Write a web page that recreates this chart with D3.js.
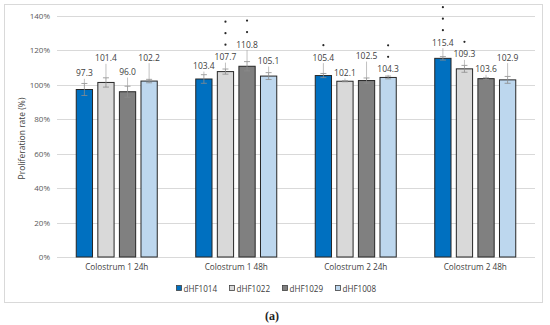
<!DOCTYPE html>
<html>
<head>
<meta charset="utf-8">
<script src="https://cdn.jsdelivr.net/npm/d3@7"></script>
<style>
  html, body { margin: 0; padding: 0; background: #fff; }
  svg { display: block; }
</style>
</head>
<body>
<svg id="chart" width="550" height="325"></svg>
<script>
// ---- data ----
const categories = ["Colostrum 1 24h", "Colostrum 1 48h", "Colostrum 2 24h", "Colostrum 2 48h"];
const seriesNames = ["dHF1014", "dHF1022", "dHF1029", "dHF1008"];
const dHF1014 = [97.3, 103.4, 105.4, 115.4];
const dHF1022 = [101.4, 107.7, 102.1, 109.3];
const dHF1029 = [96.0, 110.8, 102.5, 103.6];
const dHF1008 = [102.2, 105.1, 104.3, 102.9];
const err1014 = [3.5, 2.5, 1.2, 1.0];
const err1022 = [2.7, 1.5, 0.3, 2.0];
const err1029 = [3.2, 2.7, 1.5, 0.5];
const err1008 = [1.0, 2.0, 0.8, 2.0];
const stars1014 = [0, 0, 1, 3];
const stars1022 = [0, 3, 0, 1];
const stars1029 = [0, 2, 0, 0];
const stars1008 = [0, 0, 2, 0];
const yTicks = [0, 20, 40, 60, 80, 100, 120, 140];

// ---- layout / style ----
const colors = ["#0070C0", "#D9D9D9", "#808080", "#BDD7EE"];
// label centre heights (in axis units), as placed in the reference
const labelAt = [
  [107.0, 111.2, 116.1, 124.8],
  [115.7, 116.4, 107.2, 118.0],
  [107.7, 123.7, 117.0, 109.3],
  [116.1, 114.1, 109.3, 116.1]
];
const values = [dHF1014, dHF1022, dHF1029, dHF1008];
const errs = [err1014, err1022, err1029, err1008];
const stars = [stars1014, stars1022, stars1029, stars1008];

const svg = d3.select("#chart");
const font = "'Open Sans', 'Noto Sans', sans-serif";
const pL = 57, pR = 535, pT = 16, pB = 257;

// outer border
svg.append("rect").attr("x", 4.5).attr("y", 4.5).attr("width", 538).attr("height", 298)
  .attr("fill", "none").attr("stroke", "#D9D9D9").attr("stroke-width", 1);

const y = d3.scaleLinear().domain([0, 140]).range([pB, pT]);
const x0 = d3.scaleBand().domain(categories).range([pL, pR]).paddingInner(0).paddingOuter(0);
const groupW = 82;
const x1 = d3.scaleBand().domain(seriesNames).range([0, groupW]).paddingInner(0.2).paddingOuter(0);

// gridlines
svg.append("g").selectAll("line").data(yTicks).join("line")
  .attr("x1", pL).attr("x2", pR)
  .attr("y1", d => Math.round(y(d)) + 0.5).attr("y2", d => Math.round(y(d)) + 0.5)
  .attr("stroke", "#D9D9D9").attr("stroke-width", 1);

// y axis labels
const yAxis = d3.axisLeft(y).tickValues(yTicks).tickFormat(d => d + "%").tickSize(0).tickPadding(7);
const ya = svg.append("g").attr("transform", `translate(${pL},0)`).call(yAxis);
ya.select(".domain").remove();
ya.selectAll("text").attr("font-family", font).attr("font-size", 8).attr("fill", "#595959");

// x axis labels
const xAxis = d3.axisBottom(x0).tickSize(0).tickPadding(7);
const xa = svg.append("g").attr("transform", `translate(0,${pB})`).call(xAxis);
xa.select(".domain").remove();
xa.selectAll("text").attr("font-family", font).attr("font-size", 8.2).attr("fill", "#404040");

// y title
svg.append("text")
  .attr("transform", `translate(23,${(pT + pB) / 2 + 2}) rotate(-90)`)
  .attr("text-anchor", "middle").attr("dominant-baseline", "middle")
  .attr("font-family", font).attr("font-size", 8.5).attr("fill", "#404040")
  .text("Proliferation rate (%)");

// bars
const gx = c => x0(c) + (x0.bandwidth() - groupW) / 2;
seriesNames.forEach((s, si) => {
  const g = svg.append("g");
  const data = categories.map((c, ci) => ({ c, ci, v: values[si][ci], e: errs[si][ci], n: stars[si][ci], la: labelAt[si][ci] }));
  const bx = d => gx(d.c) + x1(s);
  const cx = d => bx(d) + x1.bandwidth() / 2;
  g.selectAll("rect").data(data).join("rect")
    .attr("x", d => bx(d) + 0.5).attr("y", d => y(d.v))
    .attr("width", x1.bandwidth() - 1).attr("height", d => y(0) - y(d.v))
    .attr("fill", colors[si]).attr("stroke", "#262626").attr("stroke-width", 1);
  // error bars
  g.selectAll("line.err").data(data).join("line").attr("class", "err")
    .attr("x1", cx).attr("x2", cx).attr("y1", d => y(d.v - d.e)).attr("y2", d => y(d.v + d.e))
    .attr("stroke", "#8C8C8C").attr("stroke-width", 0.8);
  ["cap1", "cap2"].forEach((k, ki) => {
    g.selectAll("line." + k).data(data).join("line").attr("class", k)
      .attr("x1", d => cx(d) - 3).attr("x2", d => cx(d) + 3)
      .attr("y1", d => y(ki ? d.v - d.e : d.v + d.e)).attr("y2", d => y(ki ? d.v - d.e : d.v + d.e))
      .attr("stroke", "#8C8C8C").attr("stroke-width", 0.8);
  });
  // leader lines
  g.selectAll("line.lead").data(data.filter(d => y(d.la) + 6 < y(d.v + d.e) - 1)).join("line").attr("class", "lead")
    .attr("x1", cx).attr("x2", cx).attr("y1", d => y(d.la) + 6).attr("y2", d => y(d.v + d.e))
    .attr("stroke", "#A6A6A6").attr("stroke-width", 0.7);
  // value labels
  g.selectAll("text.val").data(data).join("text").attr("class", "val")
    .attr("x", cx).attr("y", d => y(d.la))
    .attr("text-anchor", "middle").attr("dominant-baseline", "central")
    .attr("font-family", font).attr("font-size", 8.5).attr("fill", "#404040")
    .text(d => d.v.toFixed(1));
  // significance marks
  const starData = [];
  data.forEach(d => { for (let k = 0; k < d.n; k++) starData.push({ d, k }); });
  g.selectAll("circle.star").data(starData).join("circle").attr("class", "star")
    .attr("cx", o => cx(o.d)).attr("cy", o => y(o.d.la) - 12 - o.k * 11.5)
    .attr("r", 1.1).attr("fill", "#262626");
});

// legend
const legX = [176, 229, 282, 335];
const leg = svg.append("g");
seriesNames.forEach((s, i) => {
  leg.append("rect").attr("x", legX[i] + 0.5).attr("y", 285.5).attr("width", 5).attr("height", 5)
    .attr("fill", colors[i]).attr("stroke", "#404040").attr("stroke-width", 0.8);
  leg.append("text").attr("x", legX[i] + 7.5).attr("y", 288.3).attr("dominant-baseline", "central")
    .attr("font-family", font).attr("font-size", 8.1).attr("fill", "#404040").text(s);
});

// caption
svg.append("text").attr("x", 272).attr("y", 320).attr("text-anchor", "middle")
  .attr("font-family", "'Liberation Serif', 'DejaVu Serif', serif").attr("font-size", 12)
  .attr("font-weight", "bold").attr("fill", "#222").text("(a)");
</script>
</body>
</html>
